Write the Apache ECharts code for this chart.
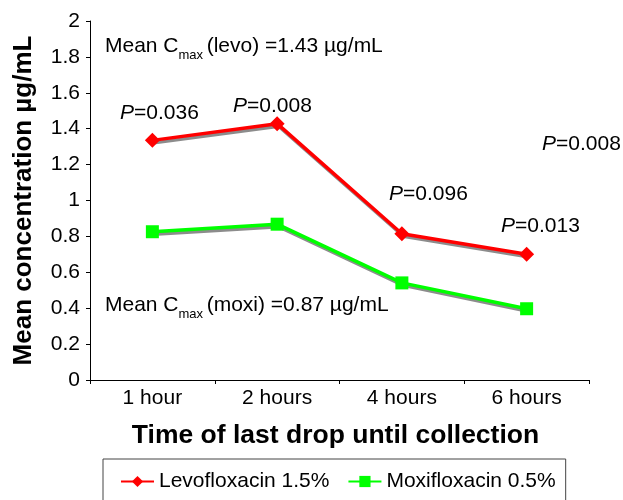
<!DOCTYPE html>
<html>
<head>
<meta charset="utf-8">
<script src="https://cdn.jsdelivr.net/npm/echarts@6/dist/echarts.min.js"></script>
<style>
html,body{margin:0;padding:0;background:#fff;}
#c{width:623px;height:500px;}
</style>
</head>
<body>
<div id="c"></div>
<script>
const categories = ['1 hour', '2 hours', '4 hours', '6 hours'];
const levoValues = [1.335, 1.428, 0.815, 0.700];
const moxiValues = [0.826, 0.868, 0.541, 0.397];
const seriesNames = ['Levofloxacin 1.5%', 'Moxifloxacin 0.5%'];
const pLabels = ['0.036', '0.008', '0.096', '0.013', '0.008'];
const cmaxLevo = '1.43';
const cmaxMoxi = '0.87';

const FONT = '"Liberation Sans", Arial, sans-serif';
const chart = echarts.init(document.getElementById('c'), null, {renderer: 'canvas'});

const rich = {
  i: {fontStyle: 'italic', fontSize: 21, fontFamily: FONT, color: '#000', lineHeight: 30},
  n: {fontSize: 21, fontFamily: FONT, color: '#000', lineHeight: 30},
  sub: {fontSize: 13, fontFamily: FONT, color: '#000', verticalAlign: 'bottom', lineHeight: 13}
};
function txt(x, y, s) {
  return {type: 'text', left: x, top: y - 15, style: {text: s, rich: rich, font: '21px ' + FONT, fill: '#000'}};
}
const pPos = [[120, 118], [233, 111], [389, 199], [501, 231], [542, 149]];

chart.setOption({
  animation: false,
  backgroundColor: '#fff',
  textStyle: {fontFamily: FONT},
  grid: {left: 90, right: 34, top: 21, bottom: 120, containLabel: false},
  xAxis: {
    type: 'category',
    data: categories,
    boundaryGap: true,
    axisLine: {lineStyle: {color: '#000', width: 1}},
    axisTick: {show: true, length: 4, lineStyle: {color: '#000'}},
    axisLabel: {color: '#000', fontSize: 21, fontFamily: FONT, margin: 8},
    name: 'Time of last drop until collection',
    nameLocation: 'middle',
    nameGap: 42,
    nameTextStyle: {color: '#000', fontSize: 26.5, fontWeight: 'bold', fontFamily: FONT, padding: [0, 8, 0, 0]}
  },
  yAxis: {
    type: 'value',
    min: 0, max: 2, interval: 0.2,
    axisLine: {show: true, lineStyle: {color: '#000', width: 1}},
    axisTick: {show: true, length: 4, lineStyle: {color: '#000'}},
    splitLine: {show: false},
    axisLabel: {color: '#000', fontSize: 21, fontFamily: FONT, margin: 10},
    name: 'Mean concentration µg/mL',
    nameLocation: 'middle',
    nameGap: 53,
    nameTextStyle: {color: '#000', fontSize: 26, fontWeight: 'bold', fontFamily: FONT}
  },
  legend: {
    data: seriesNames,
    left: 103, top: 459,
    orient: 'horizontal',
    itemWidth: 33, itemHeight: 14, itemGap: 18,
    padding: [12, 10, 30, 17],
    borderColor: '#444', borderWidth: 1,
    textStyle: {color: '#000', fontSize: 21, fontFamily: FONT}
  },
  series: [
    {
      name: seriesNames[0], type: 'line', data: levoValues,
      symbol: 'diamond', symbolSize: 15,
      itemStyle: {color: '#ff0000'},
      lineStyle: {color: '#ff0000', width: 3.5, shadowColor: 'rgba(0,0,0,0.45)', shadowBlur: 0, shadowOffsetX: 1.5, shadowOffsetY: 2.5}
    },
    {
      name: seriesNames[1], type: 'line', data: moxiValues,
      symbol: 'rect', symbolSize: 13,
      itemStyle: {color: '#00ff00'},
      lineStyle: {color: '#00ff00', width: 3.5, shadowColor: 'rgba(0,0,0,0.45)', shadowBlur: 0, shadowOffsetX: 1.5, shadowOffsetY: 2.5}
    }
  ],
  graphic: [
    txt(105, 51, '{n|Mean C}{sub|max }{n|(levo) =' + cmaxLevo + ' µg/mL}'),
    txt(105, 310, '{n|Mean C}{sub|max }{n|(moxi) =' + cmaxMoxi + ' µg/mL}')
  ].concat(pLabels.map((p, k) => txt(pPos[k][0], pPos[k][1], '{i|P}{n|=' + p + '}')))
});
</script>
</body>
</html>
